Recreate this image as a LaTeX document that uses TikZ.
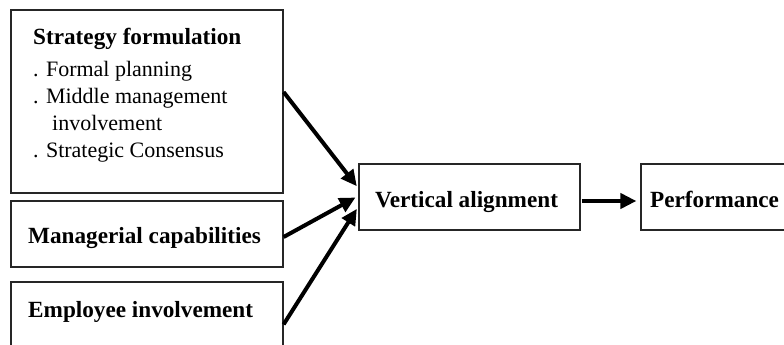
\documentclass[tikz,border=0pt]{standalone}
\usepackage{fontspec}
\setmainfont{Liberation Serif}
\usetikzlibrary{arrows.meta,calc}
\tikzset{
  box/.style={draw=black!85, line width=1.2pt, rectangle, inner sep=0pt},
  txt/.style={anchor=base west, inner sep=0pt, font=\fontsize{22}{26}\selectfont},
  btxt/.style={txt, font=\fontsize{23.2}{27}\selectfont\bfseries},
  conn/.style={line width=4pt, -{Triangle[length=16pt,width=15pt]}, shorten >=1pt}
}
\begin{document}
\begin{tikzpicture}[x=1pt,y=-1pt]
\useasboundingbox (0,0) rectangle (784,345);
\clip (0,0) rectangle (784,345);
% boxes
\node[box, minimum width=272pt, minimum height=183pt] (b1) at (147,101.5) {};
\node[box, minimum width=272pt, minimum height=66pt] (b2) at (147,234) {};
\node[box, minimum width=272pt, minimum height=72pt] (b3) at (147,318) {};
\node[box, minimum width=221pt, minimum height=66pt] (va) at (469.5,197) {};
\node[box, minimum width=160pt, minimum height=66pt] (pf) at (721,197) {};
% texts
\node[btxt] (t1) at (33,45) {Strategy formulation};
\node[txt] (t2) at (33,76) {. Formal planning};
\node[txt] (t3) at (33,103) {. Middle management};
\node[txt] (t4) at (52,130) {involvement};
\node[txt] (t5) at (33,157) {. Strategic Consensus};
\node[btxt] (t6) at (28,243) {Managerial capabilities};
\node[btxt] (t7) at (28,317) {Employee involvement};
\node[btxt] (t8) at (375,207) {Vertical alignment};
\node[btxt] (t9) at (650,207) {Performance};
% connectors
\coordinate (e1) at ($(va.west)+(-1,-10)$);
\coordinate (e2) at ($(va.west)+(-2,0)$);
\coordinate (e3) at ($(va.west)+(-1,11)$);
\draw[conn] ($(b1.east)+(0,-9.5)$) -- (e1);
\draw[conn] ($(b2.east)+(0,3)$) -- (e2);
\draw[conn] ($(b3.north east)+(0,43)$) -- (e3);
\draw[conn] ($(va.east)+(1,4)$) -- ($(pf.west)+(-3,4)$);
\end{tikzpicture}
\end{document}
